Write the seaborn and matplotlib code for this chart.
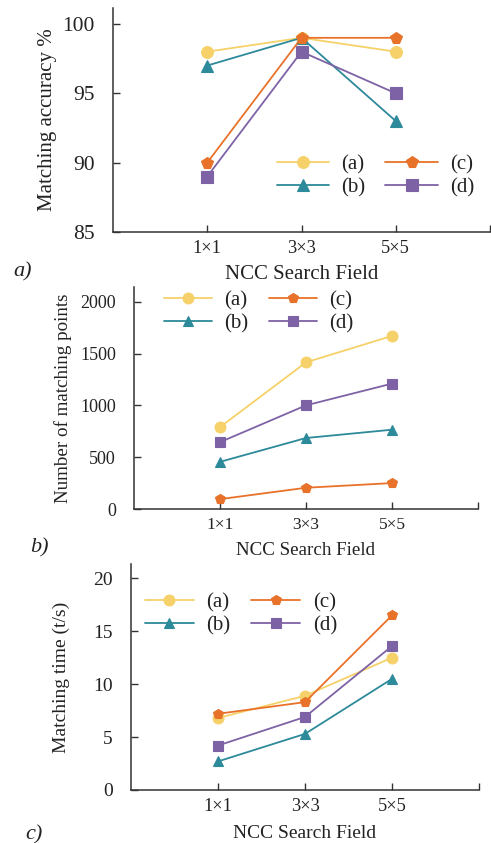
import numpy as np
import pandas as pd
import seaborn as sns
import matplotlib.pyplot as plt

sns.set_theme(style='ticks')
plt.rcParams['font.family'] = ['Liberation Serif', 'DejaVu Serif']
plt.rcParams['text.color'] = '#222222'
plt.rcParams['axes.labelcolor'] = '#222222'
plt.rcParams['xtick.color'] = '#333333'
plt.rcParams['ytick.color'] = '#333333'
plt.rcParams['xtick.labelcolor'] = '#222222'
plt.rcParams['ytick.labelcolor'] = '#222222'

fields = ['1×1', '3×3', '5×5']
series = ['(a)', '(b)', '(c)', '(d)']

acc_a = [98, 99, 98]
acc_b = [97, 99, 93]
acc_c = [90, 99, 99]
acc_d = [89, 98, 95]

pts_a = [790, 1415, 1670]
pts_b = [455, 685, 765]
pts_c = [95, 205, 250]
pts_d = [645, 1000, 1210]

time_a = [6.8, 8.9, 12.5]
time_b = [2.7, 5.3, 10.5]
time_c = [7.2, 8.3, 16.5]
time_d = [4.2, 6.9, 13.6]

colors = ['#F6D16A', '#2D8A9A', '#E8722A', '#7E62A6']
markers = ['o', '^', 'p', 's']
palette = dict(zip(series, colors))
marker_map = dict(zip(series, markers))


def long_df(vals):
    rows = []
    for s, v in zip(series, vals):
        for f, y in zip(fields, v):
            rows.append({'field': f, 'series': s, 'value': y})
    return pd.DataFrame(rows)


W, H = 491, 843
fig = plt.figure(figsize=(W / 100, H / 100), dpi=100)


def add_ax(left, right, top, bottom):
    return fig.add_axes([left / W, 1 - bottom / H, (right - left) / W, (bottom - top) / H])


panels = [
    dict(vals=[acc_a, acc_b, acc_c, acc_d], box=(113, 490, 8, 232), ylim=(85, 101.15),
         yticks=[85, 90, 95, 100], ylabel='Matching accuracy %', yfs=15.5, xfs=13.2,
         labfs=15, ylab_x=-0.149, xlab_y=-0.147, ms=8.5, hl=2.5, cs=0.95,
         leg=(0.435, 0.343), tag='a)', tagpos=(13, 272)),
    dict(vals=[pts_a, pts_b, pts_c, pts_d], box=(134, 478, 287, 509), ylim=(0, 2142),
         yticks=[0, 500, 1000, 1500, 2000], ylabel='Number of matching points', yfs=13,
         xfs=12.5, labfs=13.7, ylab_x=-0.179, xlab_y=-0.147, ms=7.8, hl=2.3, cs=1.0,
         leg=(0.086, 0.982), tag='b)', tagpos=(30, 548)),
    dict(vals=[time_a, time_b, time_c, time_d], box=(131, 479, 564, 790), ylim=(0, 21.35),
         yticks=[0, 5, 10, 15, 20], ylabel='Matching time (t/s)', yfs=14, xfs=13.2,
         labfs=14, ylab_x=-0.175, xlab_y=-0.155, ms=7.8, hl=2.35, cs=1.0,
         leg=(0.04, 0.872), tag='c)', tagpos=(25, 835)),
]

for p in panels:
    ax = add_ax(*p['box'])
    df = long_df(p['vals'])
    sns.lineplot(data=df, x='field', y='value', hue='series', style='series',
                 palette=palette, markers=marker_map, dashes=False, sort=False,
                 linewidth=1.3, markersize=p['ms'], ax=ax, legend=False)
    lines = list(ax.lines)[:4]
    for ln in lines:
        ln.set_markeredgecolor(ln.get_color())
        ln.set_markeredgewidth(0.8)
    ax.set_xlim(-1, 3)
    ax.set_xticks([0, 1, 2, 3])
    ax.set_xticklabels(fields + [''], fontsize=p['xfs'])
    ax.set_ylim(*p['ylim'])
    ax.set_yticks(p['yticks'])
    ax.tick_params(axis='y', labelsize=p['yfs'], direction='in', length=5, width=1, pad=13)
    ax.tick_params(axis='x', direction='in', length=5, width=1, pad=6)
    for s in ['top', 'right']:
        ax.spines[s].set_visible(False)
    for s in ['left', 'bottom']:
        ax.spines[s].set_color('#333333')
        ax.spines[s].set_linewidth(1.1)
    ax.set_xlabel('NCC Search Field', fontsize=p['labfs'])
    ax.set_ylabel(p['ylabel'], fontsize=p['labfs'])
    ax.yaxis.set_label_coords(p['ylab_x'], 0.5)
    ax.xaxis.set_label_coords(0.5, p['xlab_y'])
    ax.legend(lines, series, ncol=2, loc='upper left', bbox_to_anchor=p['leg'],
              frameon=False, fontsize=15, borderpad=0, borderaxespad=0,
              handlelength=p['hl'], handletextpad=0.6, columnspacing=p['cs'],
              labelspacing=0.15)
    fig.text(p['tagpos'][0] / W, 1 - p['tagpos'][1] / H, p['tag'], fontsize=16,
             style='italic', va='center', ha='left')

fig.savefig('out.png', dpi=100)
